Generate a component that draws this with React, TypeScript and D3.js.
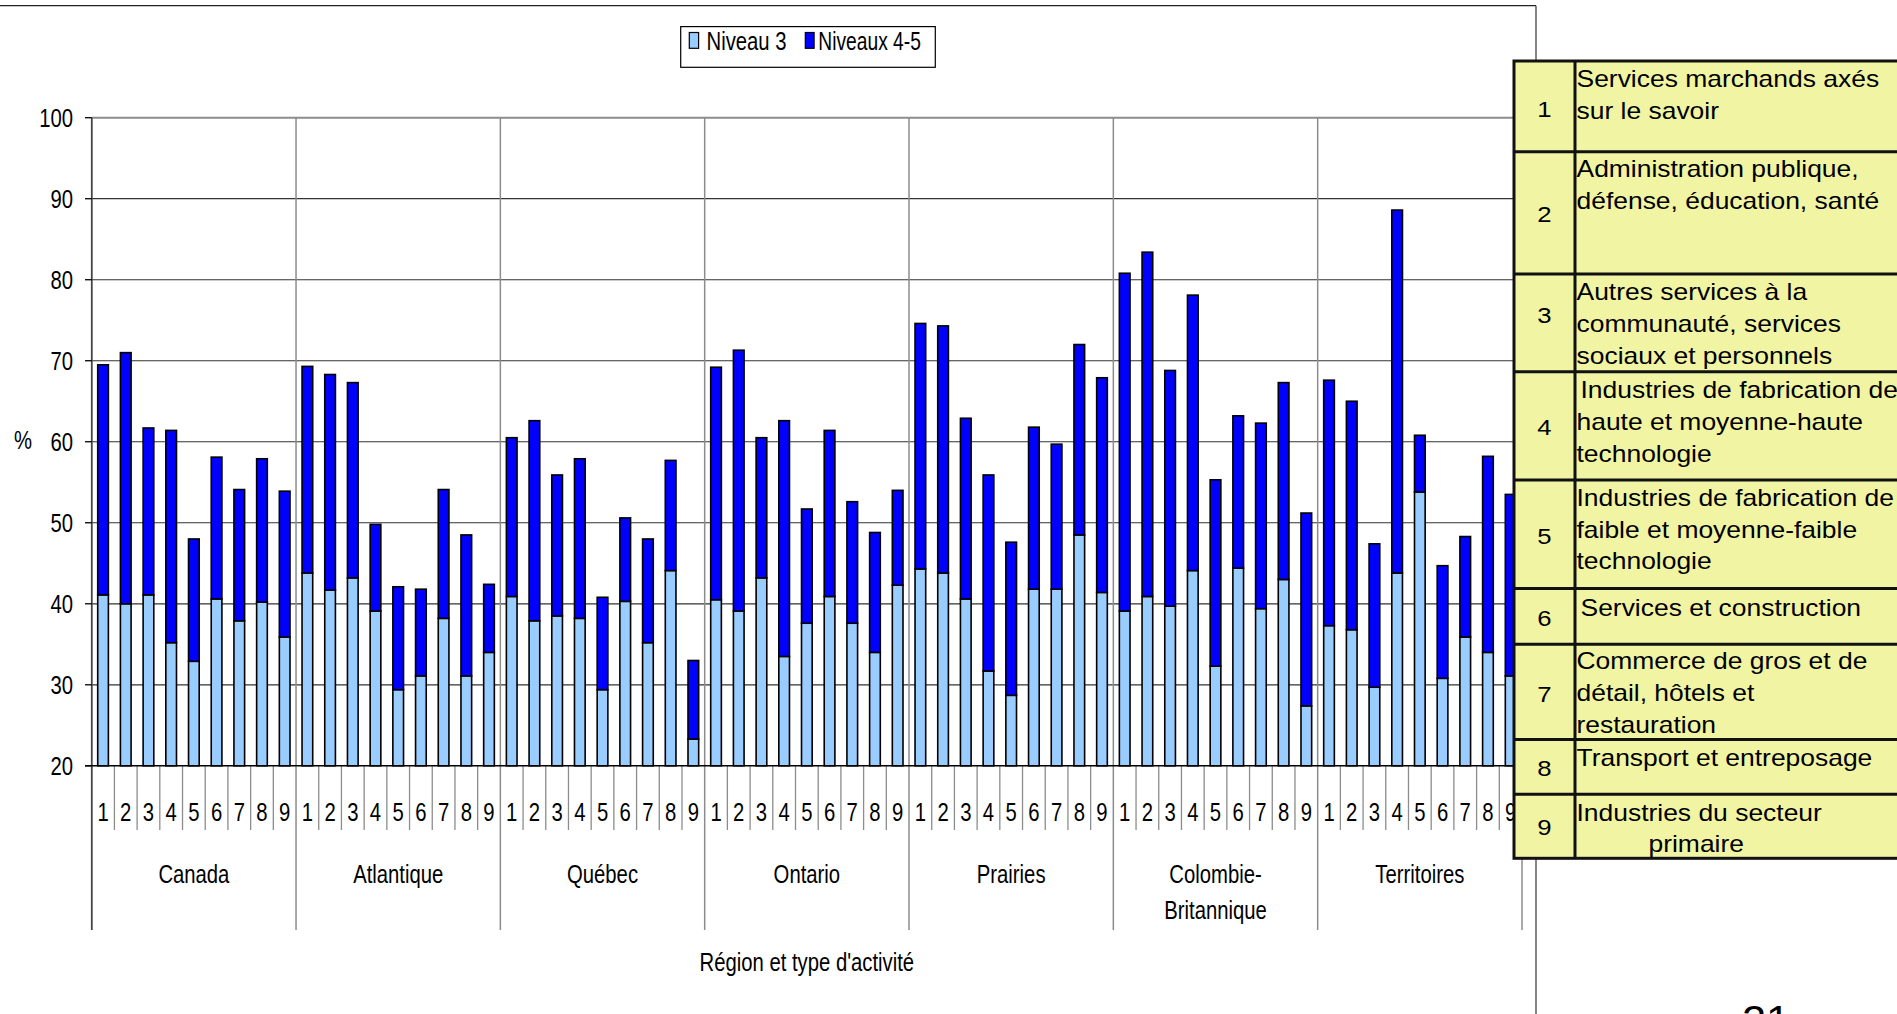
import React from "react";
import * as d3 from "d3";

// ---------- DATA ----------
const regions = ["Canada", "Atlantique", "Québec", "Ontario", "Prairies", "Colombie-Britannique", "Territoires"];
const activities = ["1", "2", "3", "4", "5", "6", "7", "8", "9"];
const seriesNames = ["Niveau 3", "Niveaux 4-5"];

// Niveau 3 (light blue), per region, activities 1..9
const niveau3 = [
  [41.1, 40.0, 41.1, 35.2, 32.9, 40.6, 37.9, 40.2, 35.9],
  [43.8, 41.7, 43.2, 39.1, 29.4, 31.1, 38.2, 31.1, 34.0],
  [40.9, 37.9, 38.5, 38.2, 29.4, 40.3, 35.2, 44.1, 23.3],
  [40.5, 39.1, 43.2, 33.5, 37.6, 40.9, 37.6, 34.0, 42.3],
  [44.3, 43.8, 40.6, 31.7, 28.7, 41.8, 41.8, 48.5, 41.4],
  [39.1, 40.9, 39.7, 44.1, 32.3, 44.4, 39.4, 43.0, 27.4],
  [37.3, 36.8, 29.7, 43.8, 53.8, 30.8, 35.9, 34.0, 31.1],
];
// Niveaux 4-5 (dark blue), stacked on Niveau 3
const niveaux45 = [
  [28.4, 31.0, 20.6, 26.2, 15.1, 17.5, 16.2, 17.7, 18.0],
  [25.5, 26.6, 24.1, 10.7, 12.7, 10.7, 15.9, 17.4, 8.4],
  [19.6, 24.7, 17.4, 19.7, 11.4, 10.3, 12.8, 13.6, 9.7],
  [28.7, 32.2, 17.3, 29.1, 14.1, 20.5, 15.0, 14.8, 11.7],
  [30.3, 30.5, 22.3, 24.2, 18.9, 20.0, 17.9, 23.5, 26.5],
  [41.7, 42.5, 29.1, 34.0, 23.0, 18.8, 22.9, 24.3, 23.8],
  [30.3, 28.2, 17.7, 44.8, 7.0, 13.9, 12.4, 24.2, 22.4],
];
const yTicks = [20, 30, 40, 50, 60, 70, 80, 90, 100];
const yAxisLabel = "%";
const xAxisTitle = "Région et type d'activité";

const tableNumbers = ["1", "2", "3", "4", "5", "6", "7", "8", "9"];
const tableLines = [
  ["Services marchands axés", "sur le savoir"],
  ["Administration publique,", "défense, éducation, santé"],
  ["Autres services à la", "communauté, services", "sociaux et personnels"],
  ["Industries de fabrication de", "haute et moyenne-haute", "technologie"],
  ["Industries de fabrication de", "faible et moyenne-faible", "technologie"],
  ["Services et construction"],
  ["Commerce de gros et de", "détail, hôtels et", "restauration"],
  ["Transport et entreposage"],
  ["Industries du secteur", "primaire"],
];
const pageNumber = "21";

// ---------- LAYOUT ----------
const W = 1897, H = 1014;
const X0 = 91.7, X1 = 1522, Y20 = 765.8, Y100 = 117.7;
const FONT = "'Liberation Sans', Arial, Helvetica, sans-serif";
const LIGHT = "#99CCFF", DARK = "#0000FF";
const TABLE_FILL = "#F1F5A3";
const rowEdges = [61, 151.7, 274, 371.7, 480, 588.5, 644.2, 739.6, 794.2, 858.3];
const firstBaselines = [87.3, 176.7, 300, 398.3, 505.8, 615.5, 669.4, 765.8, 820.5];
const numBaselines = [116.7, 221.7, 323.3, 435, 544.2, 626.3, 701.8, 775.5, 834.9];
const lineIndents = [[0, 0], [0, 0], [0, 0, 0], [4, 0, 0], [0, 0, 0], [4], [0, 0, 0], [0], [0, 72]];
const LINE_GAP = 31.8;

type TP = { x: number; y: number; s: string; size: number; sx?: number; anchor?: string; fill?: string };
const T = ({ x, y, s, size, sx = 1, anchor = "start", fill = "#000" }: TP) => (
  <text
    transform={`translate(${x},${y}) scale(${sx},1)`}
    textAnchor={anchor as any}
    fontSize={size}
    fontFamily={FONT}
    fill={fill}
  >
    {s}
  </text>
);

export default function App() {
  const ids = d3.range(regions.length * activities.length);
  const x = d3.scaleBand<number>().domain(ids).range([X0, X1]).paddingInner(0.53).paddingOuter(0.265);
  const xr = d3.scaleBand<string>().domain(regions).range([X0, X1]).padding(0);
  const step = x.step();
  const y = d3.scaleLinear().domain([20, 100]).range([Y20, Y100]);

  const flat = ids.map((id) => {
    const r = Math.floor(id / activities.length), i = id % activities.length;
    return { id, r, i, n3: niveau3[r][i], n45: niveaux45[r][i] };
  });
  const stacked = d3.stack<any>().keys(["n3", "n45"])(flat);

  const NX = 0.78; // narrow chart font
  const CH = 26;

  return (
    <svg width={W} height={H} style={{ position: "absolute", left: 0, top: 0, background: "#fff" }}>
      <rect x={0} y={0} width={W} height={H} fill="#fff" />
      {/* chart frame */}
      <line x1={0} x2={1536} y1={5.7} y2={5.7} stroke="#222" strokeWidth={1.3} />
      <line x1={1536} x2={1536} y1={5.7} y2={H} stroke="#444" strokeWidth={1.3} />

      {/* horizontal gridlines */}
      {yTicks.filter((t) => t > 20).map((t) => (
        <line key={t} x1={X0} x2={X1} y1={y(t)} y2={y(t)} stroke={t === 100 ? "#8c8c8c" : "#333"} strokeWidth={t === 100 ? 2 : 1.2} />
      ))}
      {/* region separators */}
      {regions.map((r, k) => (
        <line key={r} x1={xr(r) as number} x2={xr(r) as number} y1={Y100} y2={930} stroke={k === 0 ? "#555" : "#8c8c8c"} strokeWidth={1.5} />
      ))}
      <line x1={X1} x2={X1} y1={Y100} y2={930} stroke="#8c8c8c" strokeWidth={1.5} />
      {/* category separators */}
      {ids.filter((id) => id % activities.length !== 0).map((id) => (
        <line key={id} x1={X0 + id * step} x2={X0 + id * step} y1={Y20} y2={830} stroke="#8c8c8c" strokeWidth={1.3} />
      ))}

      {/* bars (axis starts at 20, bars clipped there) */}
      {stacked.map((ser, si) => (
        <g key={si} fill={si === 0 ? LIGHT : DARK} stroke="#000" strokeWidth={1.6}>
          {ser.map((d: any) => {
            const lo = Math.max(d[0], 20);
            return (
              <rect key={d.data.id} x={x(d.data.id)} width={x.bandwidth()} y={y(d[1])} height={y(lo) - y(d[1])} />
            );
          })}
        </g>
      ))}

      {/* axes */}
      <line x1={X0} x2={X0} y1={Y100} y2={930} stroke="#444" strokeWidth={1.5} />
      <line x1={85} x2={X1} y1={Y20} y2={Y20} stroke="#000" strokeWidth={1.6} />
      {yTicks.map((t) => (
        <g key={t}>
          <line x1={85} x2={X0} y1={y(t)} y2={y(t)} stroke="#000" strokeWidth={1.3} />
          <T x={73} y={y(t) + 9.5} s={String(t)} size={CH} sx={NX} anchor="end" />
        </g>
      ))}
      <T x={14} y={449} s={yAxisLabel} size={CH} sx={NX} />

      {/* x labels */}
      {flat.map((d) => (
        <T key={d.id} x={X0 + (d.id + 0.5) * step} y={821} s={activities[d.i]} size={CH} sx={NX} anchor="middle" />
      ))}
      {regions.map((r) => {
        const cx = (xr(r) as number) + xr.bandwidth() / 2;
        const parts = r.includes("-") ? [r.slice(0, r.indexOf("-") + 1), r.slice(r.indexOf("-") + 1)] : [r];
        return parts.map((p, j) => <T key={r + j} x={cx} y={882.5 + j * 36.8} s={p} size={CH} sx={NX} anchor="middle" />);
      })}
      <T x={(X0 + X1) / 2} y={971} s={xAxisTitle} size={CH} sx={NX} anchor="middle" />

      {/* legend */}
      <rect x={680.7} y={26.6} width={254.6} height={40.7} fill="#fff" stroke="#000" strokeWidth={1.2} />
      <rect x={689.3} y={32.5} width={9.3} height={15.8} fill={LIGHT} stroke="#000" strokeWidth={1.2} />
      <T x={706.5} y={50} s={seriesNames[0]} size={CH} sx={NX} />
      <rect x={805.3} y={32.5} width={8.8} height={15.8} fill={DARK} stroke="#000" strokeWidth={1.2} />
      <T x={818.3} y={50} s={seriesNames[1]} size={CH} sx={0.74} />

      {/* table */}
      <rect x={1514} y={rowEdges[0]} width={400} height={rowEdges[9] - rowEdges[0]} fill={TABLE_FILL} stroke="#111" strokeWidth={3} />
      {rowEdges.slice(1, 9).map((e, k) => (
        <line key={k} x1={1514} x2={1900} y1={e} y2={e} stroke="#111" strokeWidth={3} />
      ))}
      <line x1={1575} x2={1575} y1={rowEdges[0]} y2={rowEdges[9]} stroke="#111" strokeWidth={3} />
      {tableNumbers.map((n, k) => (
        <T key={n} x={1544.5} y={numBaselines[k]} s={n} size={23} sx={1.12} anchor="middle" />
      ))}
      {tableLines.map((lines, k) =>
        lines.map((ln, j) => (
          <T key={k + "-" + j} x={1576.5 + lineIndents[k][j]} y={firstBaselines[k] + j * LINE_GAP} s={ln} size={23} sx={1.15} />
        ))
      )}

      <T x={1742} y={1034} s={pageNumber} size={40} sx={1.08} />
    </svg>
  );
}
